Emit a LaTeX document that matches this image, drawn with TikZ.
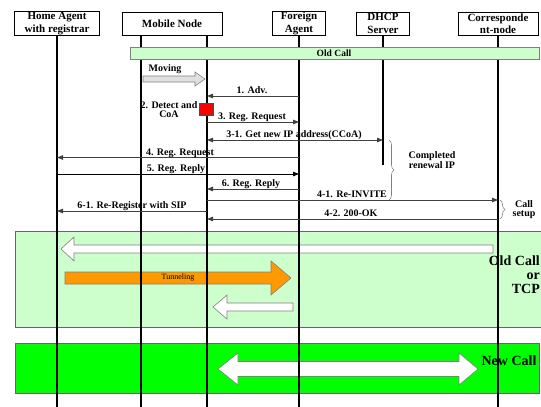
\documentclass[tikz,border=0pt]{standalone}
\usepackage{fontspec}
\setmainfont{Liberation Serif}
\usepackage{xcolor}
\usepackage{tikz}
\usetikzlibrary{arrows.meta,decorations.pathreplacing}

\definecolor{oldgreen}{HTML}{CCFFCC}
\definecolor{newgreen}{HTML}{00FF00}
\definecolor{tunnelorange}{HTML}{FF9900}

\begin{document}
\begin{tikzpicture}[
    x=1pt,y=-1pt,
    head/.style={draw,line width=0.6pt,minimum height=23,inner sep=1pt,
                 align=center,font=\fontsize{11}{12.5}\selectfont\bfseries},
    life/.style={line width=2.6pt},
    msg/.style={line width=0.8pt,draw=black!75,
                -{Triangle[length=6pt,width=4.5pt]}},
    bimsg/.style={msg,{Triangle[length=6pt,width=4.5pt]}-{Triangle[length=6pt,width=4.5pt]}},
    lbl/.style={inner sep=0pt,anchor=base,font=\fontsize{10}{11}\selectfont\bfseries},
    note/.style={inner sep=0pt,align=center,font=\fontsize{10}{9}\selectfont\bfseries},
    big/.style={inner sep=0pt,font=\fontsize{14}{15}\selectfont\bfseries},
    fat/.style={draw=gray,line width=0.6pt,line join=miter},
    panel/.style={draw=black!60,line width=0.6pt},
    brace/.style={draw=gray,line width=0.6pt,decorate,
                  decoration={brace,amplitude=5pt}}
]
    \useasboundingbox (0,0) rectangle (541,407);
    \coordinate (bottom) at (0,408);

    % Data phases before and after the handover.
    \draw[panel,fill=oldgreen] (15,231) rectangle (545,327);
    \draw[panel,fill=newgreen] (15,343) rectangle (539,393);

    \draw[fat,fill=white] (493,245) -- (74,245) -- (74,237) -- (61,249)
        -- (74,261) -- (74,253) -- (493,253) -- cycle;
    \draw[fat,fill=tunnelorange] (65,272) -- (271,272) -- (271,261) -- (291,278)
        -- (271,295) -- (271,284) -- (65,284) -- cycle;
    \node[inner sep=0pt,font=\fontsize{8}{9}\selectfont] (tunnel) at (178,278) {Tunneling};
    \draw[fat,fill=white] (293,303) -- (227,303) -- (227,295) -- (213,307)
        -- (227,319) -- (227,311) -- (293,311) -- cycle;
    \draw[fat,fill=white] (218,369) -- (238,353) -- (238,361.5) -- (459,361.5)
        -- (459,353) -- (478,369) -- (459,385) -- (459,376.5) -- (238,376.5)
        -- (238,385) -- cycle;

    \node[big,align=right,anchor=north east] (oldtcp) at (540,256)
        {Old Call\\[-1pt]or\\[-1pt]TCP};
    \node[big] (newcall) at (509,361) {New Call};

    % Entities and their lifelines.
    \node[head,minimum width=85]  (ha)   at (57,23.5)  {Home Agent\\with registrar};
    \node[head,minimum width=100] (mn)   at (172,23.5) {Mobile Node};
    \node[head,minimum width=53]  (fa)   at (299,23.5) {Foreign\\Agent};
    \node[head,minimum width=53]  (dhcp) at (383,23.5) {DHCP\\Server};
    \node[head,minimum width=80]  (cn)   at (498,23.5) {Corresponde\\nt-node};
    \coordinate (mnL) at (141,35);
    \coordinate (mnR) at (207,35);

    \draw[life] (ha.south)   -- (ha.south |- bottom);
    \draw[life] (mnL)        -- (mnL |- bottom);
    \draw[life] (mnR)        -- (mnR |- bottom);
    \draw[life] (fa.south)   -- (fa.south |- bottom);
    \draw[life] (dhcp.south) -- (dhcp.south |- 0,165);
    \draw[life] (cn.south)   -- (cn.south |- bottom);

    \draw[panel,draw=gray,fill=oldgreen] (130,47) rectangle (539,59);
    \node[lbl,font=\fontsize{9.5}{10}\selectfont\bfseries] (oldcall) at (334,56.5) {Old Call};

    % Handover signalling.
    \draw[fat,fill=black!12] (143,76) -- (195,76) -- (195,72) -- (205,79)
        -- (195,86) -- (195,82) -- (143,82) -- cycle;
    \node[lbl] (moving) at (165,71) {Moving};

    \draw[msg] (fa |- 0,96) -- (mnR |- 0,96);
    \node[lbl] (adv) at (252,93.5) {1. Adv.};

    \node[note,anchor=center] (detect) at (169,110) {2. Detect and\\CoA};
    \draw[draw=black!70,fill=red,line width=0.5pt] (199,103) rectangle (213,115);

    \draw[msg] (mnR |- 0,122) -- (fa |- 0,122);
    \node[lbl] (req3) at (252,119.5) {3. Reg. Request};

    \draw[bimsg] (mnR |- 0,140) -- (dhcp |- 0,140);
    \node[lbl] (ccoa) at (294,137.5) {3-1. Get new IP address(CCoA)};

    \draw[msg] (fa |- 0,157.5) -- (ha |- 0,157.5);
    \node[lbl] (req4) at (180,155) {4. Reg. Request};

    \draw[msg,draw=black] (ha |- 0,174) -- (fa |- 0,174);
    \node[lbl] (rep5) at (176,171.5) {5. Reg. Reply};

    \draw[msg] (fa |- 0,189) -- (mnR |- 0,189);
    \node[lbl] (rep6) at (251,186.5) {6. Reg. Reply};

    \draw[msg] (mnR |- 0,200) -- (cn |- 0,200);
    \node[lbl] (invite) at (352,197.5) {4-1. Re-INVITE};

    \draw[msg] (mnR |- 0,211) -- (ha |- 0,211);
    \node[lbl] (sip) at (132,208.5) {6-1. Re-Register with SIP};

    \draw[msg] (cn |- 0,219) -- (mnR |- 0,219);
    \node[lbl] (ok) at (351,216.5) {4-2. 200-OK};

    % Grouping of the two phases.
    \draw[brace] (389,140) -- (389,200);
    \node[note] (renewal) at (432,160) {Completed\\renewal IP};
    \draw[brace] (500,200) -- (500,219);
    \node[note] (setup) at (524,210) {Call\\setup};
\end{tikzpicture}
\end{document}
